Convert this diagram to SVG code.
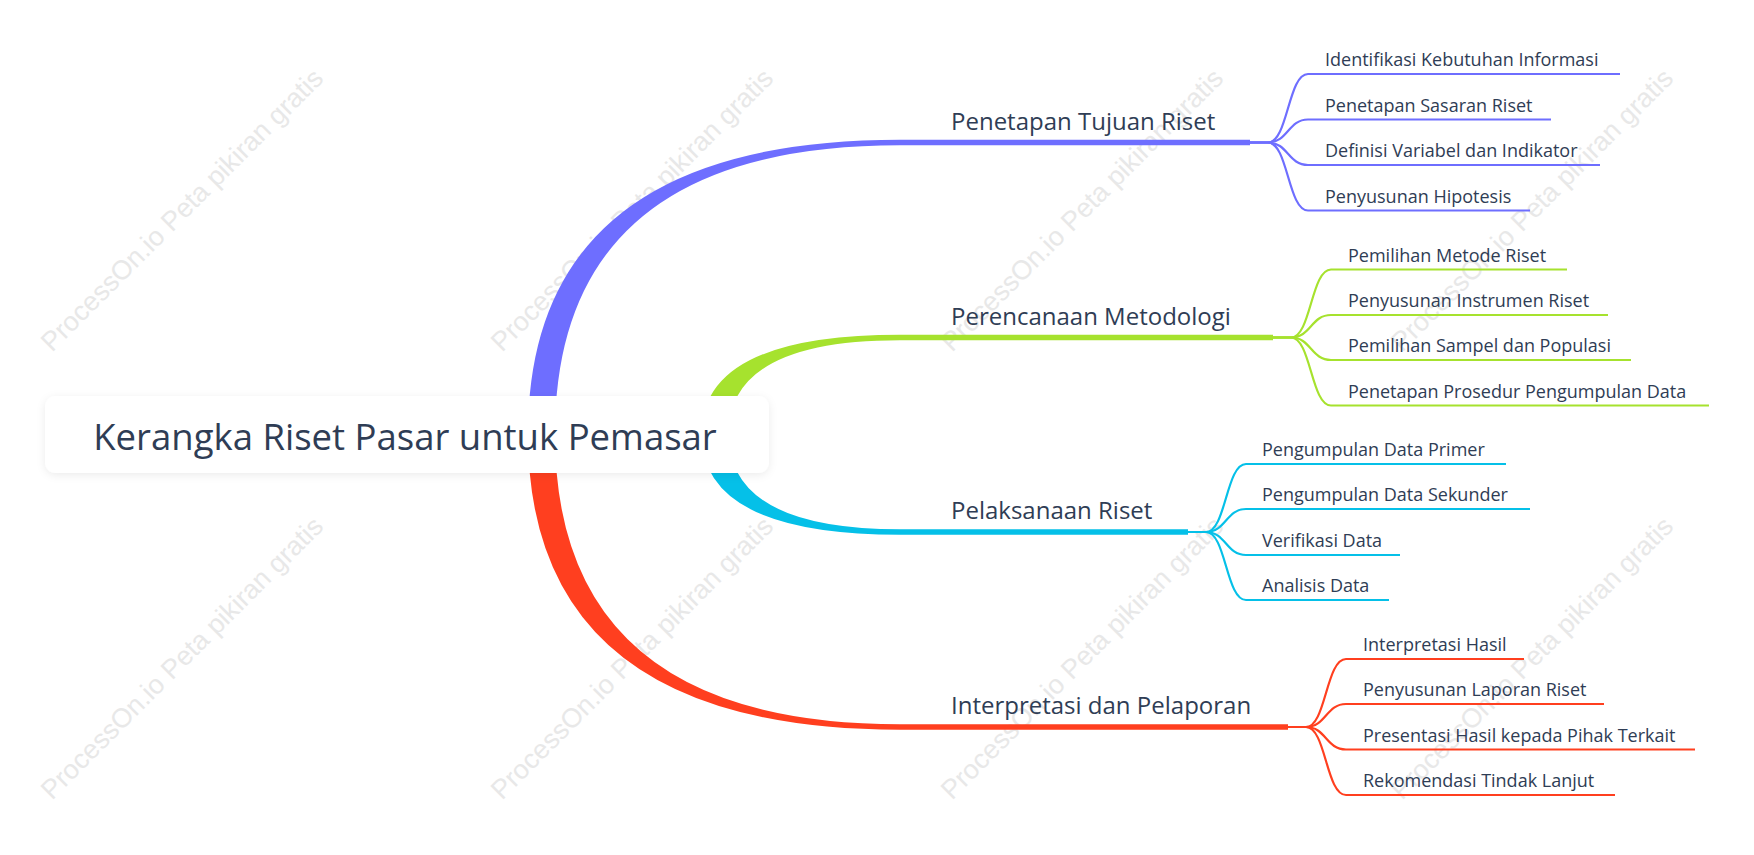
<svg xmlns="http://www.w3.org/2000/svg" width="1754" height="855" viewBox="0 0 1754 855">
<defs>
<style>
.wm{font-family:"Liberation Sans",Arial,sans-serif;font-size:27px;fill:#e8e8e8;text-anchor:middle}
.t1{font-family:"Open Sans","Noto Sans",sans-serif;font-size:24px;fill:#2f3d55}
.t2{font-family:"Open Sans","Noto Sans",sans-serif;font-size:18px;fill:#2f3d55}
.root{font-family:"Open Sans","Noto Sans",sans-serif;font-size:36.5px;fill:#2f3d55;text-anchor:middle}
.lp{fill:none;stroke:#6e6eff;stroke-width:2.2}
.lg{fill:none;stroke:#a6e22e;stroke-width:2.2}
.lc{fill:none;stroke:#05c0e8;stroke-width:2.2}
.lr{fill:none;stroke:#ff3f1f;stroke-width:2.2}
</style>
<filter id="sh" x="-10%" y="-30%" width="120%" height="160%">
<feDropShadow dx="0" dy="2" stdDeviation="4" flood-color="#000" flood-opacity="0.08"/>
</filter>
</defs>
<rect width="1754" height="855" fill="#ffffff"/>
<g id="watermarks">
<text class="wm" transform="translate(182,210) rotate(-45)" dy="9">ProcessOn.io Peta pikiran gratis</text>
<text class="wm" transform="translate(632,210) rotate(-45)" dy="9">ProcessOn.io Peta pikiran gratis</text>
<text class="wm" transform="translate(1082,210) rotate(-45)" dy="9">ProcessOn.io Peta pikiran gratis</text>
<text class="wm" transform="translate(1532,210) rotate(-45)" dy="9">ProcessOn.io Peta pikiran gratis</text>
<text class="wm" transform="translate(182,658) rotate(-45)" dy="9">ProcessOn.io Peta pikiran gratis</text>
<text class="wm" transform="translate(632,658) rotate(-45)" dy="9">ProcessOn.io Peta pikiran gratis</text>
<text class="wm" transform="translate(1082,658) rotate(-45)" dy="9">ProcessOn.io Peta pikiran gratis</text>
<text class="wm" transform="translate(1532,658) rotate(-45)" dy="9">ProcessOn.io Peta pikiran gratis</text>
</g>
<g id="connectors">
<path fill="#6e6eff" d="M528 434 Q528 139.75 900 139.75 L1250 139.75 L1250 145.25 L900 145.25 Q555 145.25 555 434 Z"/>
<path fill="#a6e22e" d="M701.5 434 Q701.5 334.75 900 334.75 L1273 334.75 L1273 340.25 L900 340.25 Q728.5 340.25 728.5 434 Z"/>
<path fill="#05c0e8" d="M701.5 434 Q701.5 534.75 900 534.75 L1188 534.75 L1188 529.25 L900 529.25 Q728.5 529.25 728.5 434 Z"/>
<path fill="#ff3f1f" d="M528 434 Q528 729.75 900 729.75 L1288 729.75 L1288 724.25 L900 724.25 Q555 724.25 555 434 Z"/>
<path class="lp" d="M1248 142.5 L1268 142.5 C1288 142.5 1288 74 1308 74 L1620 74"/>
<path class="lp" d="M1248 142.5 L1268 142.5 C1288 142.5 1288 119.5 1308 119.5 L1551 119.5"/>
<path class="lp" d="M1248 142.5 L1268 142.5 C1288 142.5 1288 165 1308 165 L1600 165"/>
<path class="lp" d="M1248 142.5 L1268 142.5 C1288 142.5 1288 210.5 1308 210.5 L1530 210.5"/>
<path class="lg" d="M1271 337.5 L1291 337.5 C1311 337.5 1311 269.5 1331 269.5 L1567 269.5"/>
<path class="lg" d="M1271 337.5 L1291 337.5 C1311 337.5 1311 315 1331 315 L1608 315"/>
<path class="lg" d="M1271 337.5 L1291 337.5 C1311 337.5 1311 360 1331 360 L1631 360"/>
<path class="lg" d="M1271 337.5 L1291 337.5 C1311 337.5 1311 405.5 1331 405.5 L1709 405.5"/>
<path class="lc" d="M1186 532 L1206 532 C1226 532 1226 464 1246 464 L1506 464"/>
<path class="lc" d="M1186 532 L1206 532 C1226 532 1226 509 1246 509 L1530 509"/>
<path class="lc" d="M1186 532 L1206 532 C1226 532 1226 555 1246 555 L1400 555"/>
<path class="lc" d="M1186 532 L1206 532 C1226 532 1226 600 1246 600 L1389 600"/>
<path class="lr" d="M1286 727 L1306 727 C1326 727 1326 659 1346 659 L1524 659"/>
<path class="lr" d="M1286 727 L1306 727 C1326 727 1326 704 1346 704 L1604 704"/>
<path class="lr" d="M1286 727 L1306 727 C1326 727 1326 749.5 1346 749.5 L1695 749.5"/>
<path class="lr" d="M1286 727 L1306 727 C1326 727 1326 795 1346 795 L1615 795"/>
</g>
<g id="root">
<rect x="45" y="396" width="724" height="77" rx="11" fill="#ffffff" filter="url(#sh)"/>
<text class="root" x="405" y="450">Kerangka Riset Pasar untuk Pemasar</text>
</g>
<g id="n1"><text class="t1" x="951" y="129.5">Penetapan Tujuan Riset</text></g>
<g id="n2"><text class="t1" x="951" y="324.5">Perencanaan Metodologi</text></g>
<g id="n3"><text class="t1" x="951" y="519">Pelaksanaan Riset</text></g>
<g id="n4"><text class="t1" x="951" y="714">Interpretasi dan Pelaporan</text></g>
<g id="n1a"><text class="t2" x="1325" y="66">Identifikasi Kebutuhan Informasi</text></g>
<g id="n1b"><text class="t2" x="1325" y="111.5">Penetapan Sasaran Riset</text></g>
<g id="n1c"><text class="t2" x="1325" y="157">Definisi Variabel dan Indikator</text></g>
<g id="n1d"><text class="t2" x="1325" y="202.5">Penyusunan Hipotesis</text></g>
<g id="n2a"><text class="t2" x="1348" y="261.5">Pemilihan Metode Riset</text></g>
<g id="n2b"><text class="t2" x="1348" y="307">Penyusunan Instrumen Riset</text></g>
<g id="n2c"><text class="t2" x="1348" y="352">Pemilihan Sampel dan Populasi</text></g>
<g id="n2d"><text class="t2" x="1348" y="397.5">Penetapan Prosedur Pengumpulan Data</text></g>
<g id="n3a"><text class="t2" x="1262" y="456">Pengumpulan Data Primer</text></g>
<g id="n3b"><text class="t2" x="1262" y="501">Pengumpulan Data Sekunder</text></g>
<g id="n3c"><text class="t2" x="1262" y="547">Verifikasi Data</text></g>
<g id="n3d"><text class="t2" x="1262" y="592">Analisis Data</text></g>
<g id="n4a"><text class="t2" x="1363" y="651">Interpretasi Hasil</text></g>
<g id="n4b"><text class="t2" x="1363" y="696">Penyusunan Laporan Riset</text></g>
<g id="n4c"><text class="t2" x="1363" y="741.5">Presentasi Hasil kepada Pihak Terkait</text></g>
<g id="n4d"><text class="t2" x="1363" y="787">Rekomendasi Tindak Lanjut</text></g>
</svg>
